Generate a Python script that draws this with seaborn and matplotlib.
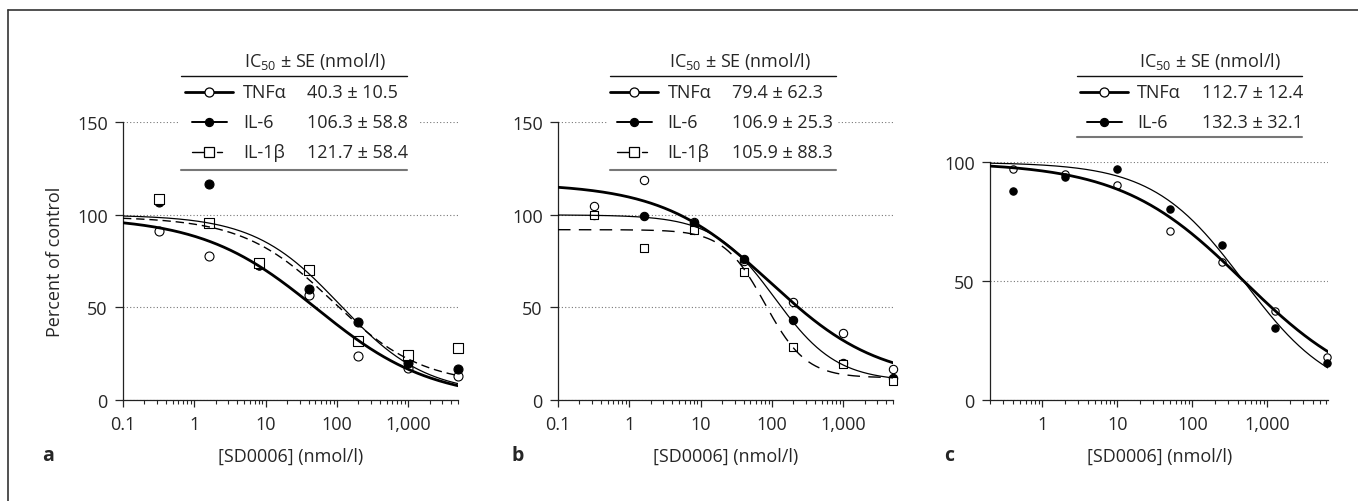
import numpy as np
import pandas as pd
import seaborn as sns
import matplotlib.pyplot as plt
from matplotlib.lines import Line2D
from matplotlib.patches import Rectangle
from matplotlib.ticker import FixedLocator, LogLocator, NullFormatter

# concentrations (nmol/l)
conc_ab = [0.32, 1.6, 8, 40, 200, 1000, 5000]
conc_c = [0.4, 2, 10, 50, 250, 1250, 6250]

# percent of control
a_tnf = [91.5, 78, 73, 56.7, 23.5, 17.4, 12.7]
a_il6 = [107, 116.5, 73, 60, 42.4, 20, 17]
a_il1b = [108.7, 95.6, 74, 70.3, 32, 24.5, 28]

b_tnf = [105, 119, 96, 75, 53, 36, 17]
b_il6 = [100, 99.5, 95.5, 76, 43, 20, 12]
b_il1b = [100, 82, 92, 69, 28.5, 19.6, 10.3]

c_tnf = [97, 95.2, 90.3, 71, 57.8, 37.3, 18]
c_il6 = [88, 93.7, 97, 80.3, 65.3, 30.4, 15.4]

# fitted curves: top, bottom, IC50, Hill slope
a_fit_tnf = (99, 0, 51.5, 0.54)
a_fit_il6 = (100, 3, 110, 0.72)
a_fit_il1b = (99, 8, 86, 0.69)
b_fit_tnf = (117, 10, 95, 0.57)
b_fit_il6 = (100, 10, 110, 1.0)
b_fit_il1b = (92, 12, 80, 1.5)
c_fit_tnf = (100, 0, 482, 0.53)
c_fit_il6 = (100, 0, 479, 0.72)

names = ["TNFα", "IL-6", "IL-1β"]
a_ic50 = ["40.3 ± 10.5", "106.3 ± 58.8", "121.7 ± 58.4"]
b_ic50 = ["79.4 ± 62.3", "106.9 ± 25.3", "105.9 ± 88.3"]
c_ic50 = ["112.7 ± 12.4", "132.3 ± 32.1"]

W, H = 1358, 502

sns.set_style("ticks")
plt.rcParams["font.family"] = ["Open Sans", "DejaVu Sans"]
plt.rcParams["mathtext.fontset"] = "custom"
plt.rcParams["mathtext.rm"] = "Open Sans"
plt.rcParams["font.size"] = 13

fig = plt.figure(figsize=(W / 100, H / 100), dpi=100)


def fx(x):
    return x / W


def fy(y):
    return 1 - y / H


def logistic(x, top, bottom, ic50, hill):
    return bottom + (top - bottom) / (1 + (x / ic50) ** hill)


# marker / line style per cytokine
STY = {
    "TNFα": dict(marker="o", fc="white", lw=2.0, ls="-", leg_lw=2.0),
    "IL-6": dict(marker="o", fc="black", lw=0.9, ls="-", leg_lw=1.4),
    "IL-1β": dict(marker="s", fc="white", lw=1.0, ls="--", leg_lw=1.0),
}


def draw_panel(ax, labels, conc, data, fits, xlim, ylim, xticks, msize, dash):
    xs = np.logspace(np.log10(xlim[0]), np.log10(xlim[1]), 300)
    for name, vals, fit in zip(labels, data, fits):
        st = STY[name]
        sns.scatterplot(x=conc, y=vals, ax=ax, marker=st["marker"], s=msize,
                        facecolor=st["fc"], edgecolor="black", linewidth=0.8,
                        zorder=2, clip_on=False)
        sns.lineplot(x=xs, y=logistic(xs, *fit), ax=ax, color="black",
                     lw=st["lw"], sort=False, estimator=None, zorder=3)
        if st["ls"] == "--":
            ax.lines[-1].set_dashes(dash)
    ax.set_xscale("log")
    ax.set_xlim(*xlim)
    ax.set_ylim(*ylim)
    ax.set_yticks(list(range(0, ylim[1] + 1, 50)))
    ax.xaxis.set_major_locator(FixedLocator(xticks))
    ax.set_xticklabels([f"{t:,g}" for t in xticks])
    ax.xaxis.set_minor_locator(LogLocator(base=10, subs=np.arange(2, 10)))
    ax.xaxis.set_minor_formatter(NullFormatter())
    ax.grid(axis="y", linestyle=(0, (1, 2)), color="#777777", lw=0.8)
    ax.set_axisbelow(True)
    sns.despine(ax=ax)
    for sp in ("left", "bottom"):
        ax.spines[sp].set_linewidth(0.9)
        ax.spines[sp].set_color("#222222")
    ax.tick_params(axis="x", which="major", length=5, width=0.9, pad=6, labelsize=13)
    ax.tick_params(axis="x", which="minor", length=3, width=0.8)
    ax.tick_params(axis="y", length=6, width=0.9, pad=5, labelsize=13)
    ax.set_xlabel("[SD0006] (nmol/l)", fontsize=13, va="center")
    ax.set_ylabel("")


def draw_legend(labels, cx, x0, x1, name_x, val_x, title_x, rows_y, bottom_y, vals, box):
    fig.add_artist(Rectangle((fx(box[0]), fy(bottom_y + 4)), (box[1] - box[0]) / W,
                             (bottom_y + 4 - 48) / H, transform=fig.transFigure,
                             facecolor="white", edgecolor="none", zorder=1))
    fig.text(fx(title_x), fy(61.7), r"IC$_{50}$ ± SE (nmol/l)", ha="center",
             va="center", fontsize=13, zorder=3)
    fig.add_artist(Line2D([fx(x0), fx(x1)], [fy(76.7)] * 2, color="#111111",
                          lw=1.0, zorder=3))
    fig.add_artist(Line2D([fx(x0), fx(x1)], [fy(bottom_y)] * 2, color="#777777",
                          lw=1.5, zorder=3))
    for name, y, v in zip(labels, rows_y, vals):
        st = STY[name]
        if name == "TNFα":
            segs = [(cx - 24, cx + 24)]
        elif name == "IL-6":
            segs = [(cx - 17, cx + 18)]
        else:
            segs = [(cx - 17, cx - 4), (cx + 8, cx + 13)]
        for s0, s1 in segs:
            fig.add_artist(Line2D([fx(s0), fx(s1)], [fy(y)] * 2, color="black",
                                  lw=st["leg_lw"], zorder=3))
        ms = 6.5 if st["fc"] == "white" else 5.8
        fig.add_artist(Line2D([fx(cx)], [fy(y)], marker=st["marker"], ms=ms,
                              mfc=st["fc"], mec="black", mew=0.9, ls="none",
                              zorder=4))
        fig.text(fx(name_x), fy(y), name, ha="left", va="center", fontsize=13, zorder=3)
        fig.text(fx(val_x), fy(y), v, ha="left", va="center", fontsize=13, zorder=3)


# panel a
ax_a = fig.add_axes([fx(123), fy(401), 335 / W, (401 - 123.3) / H])
draw_panel(ax_a, names, conc_ab, [a_tnf, a_il6, a_il1b],
           [a_fit_tnf, a_fit_il6, a_fit_il1b],
           (0.1, 5000), (0, 150), [0.1, 1, 10, 100, 1000], 42, (6, 3.5))
ax_a.xaxis.set_label_coords(0.5, (401 - 456.7) / 277.7)
ax_a.set_ylabel("Percent of control", fontsize=13, va="center")
ax_a.yaxis.set_label_coords((55 - 123) / 335, 0.5)

# panel b
ax_b = fig.add_axes([fx(558), fy(401), 335 / W, (401 - 123.3) / H])
draw_panel(ax_b, names, conc_ab, [b_tnf, b_il6, b_il1b],
           [b_fit_tnf, b_fit_il6, b_fit_il1b],
           (0.1, 5000), (0, 150), [0.1, 1, 10, 100, 1000], 36, (9, 6))
ax_b.xaxis.set_label_coords(0.5, (401 - 456.7) / 277.7)

# panel c
ax_c = fig.add_axes([fx(990), fy(400.7), 338.4 / W, (400.7 - 163.3) / H])
draw_panel(ax_c, names[:2], conc_c, [c_tnf, c_il6], [c_fit_tnf, c_fit_il6],
           (0.2, 6500), (0, 100), [1, 10, 100, 1000], 28, (6, 3.5))
ax_c.xaxis.set_label_coords(0.5, (400.7 - 456.7) / 237.4)

draw_legend(names, 209, 181, 407, 243, 307, 315, [92.7, 122.7, 153.3], 171,
            a_ic50, (178, 420))
draw_legend(names, 634, 610, 836, 667.7, 731.7, 740, [92.7, 123.3, 153.3], 171,
            b_ic50, (607, 838))
draw_legend(names[:2], 1104, 1077, 1302, 1137, 1201.7, 1210, [92.7, 122.7], 138.3,
            c_ic50, (1074, 1305))

# panel letters
for letter, x in zip(["a", "b", "c"], [48, 518, 948.7]):
    fig.text(fx(x), fy(456), letter, ha="center", va="center", fontsize=14,
             fontweight="bold")

# frame (top and left edges)
fig.add_artist(Line2D([fx(8), 1.0], [fy(11)] * 2, color="#333333", lw=1.2))
fig.add_artist(Line2D([fx(8)] * 2, [fy(11), 0.0], color="#333333", lw=1.2))

fig.savefig("out.png", dpi=100)
